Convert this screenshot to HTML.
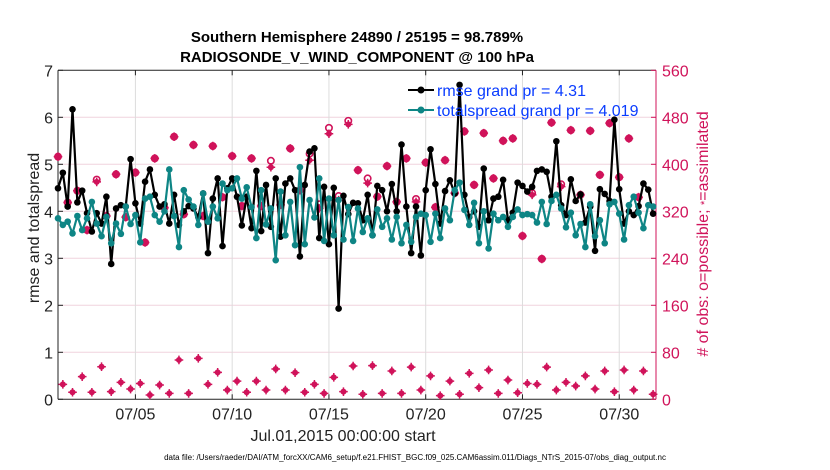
<!DOCTYPE html>
<html><head><meta charset="utf-8"><style>
html,body{margin:0;padding:0;background:#fff;}
svg{display:block;font-family:"Liberation Sans",Arial,sans-serif;}
</style></head><body>
<svg id="chart" width="830" height="470" viewBox="0 0 830 470">
<text x="357" y="42" text-anchor="middle" font-size="15" font-weight="bold">Southern Hemisphere 24890 / 25195 = 98.789%</text>
<text x="357" y="62" text-anchor="middle" font-size="15" font-weight="bold">RADIOSONDE_V_WIND_COMPONENT @ 100 hPa</text>
<g id="grid"></g>
<g id="axes"></g>
<g id="marks"></g>
<text transform="translate(39,228) rotate(-90)" text-anchor="middle" font-size="16" fill="#222">rmse and totalspread</text>
<text transform="translate(708,234) rotate(-90)" text-anchor="middle" font-size="16" fill="#d0135a"># of obs: o=possible; <tspan font-size="11">*</tspan>=assimilated</text>
<text x="343" y="441" text-anchor="middle" font-size="16" fill="#222">Jul.01,2015 00:00:00 start</text>
<text x="415" y="460" text-anchor="middle" font-size="8" fill="#000">data file: /Users/raeder/DAI/ATM_forcXX/CAM6_setup/f.e21.FHIST_BGC.f09_025.CAM6assim.011/Diags_NTrS_2015-07/obs_diag_output.nc</text>
<g>
<line x1="408" y1="90" x2="434" y2="90" stroke="#000" stroke-width="2"/>
<circle cx="421" cy="90" r="3.5" fill="#000"/>
<text x="437" y="96" font-size="16" fill="#0a3cff">rmse grand pr = 4.31</text>
<line x1="408" y1="110" x2="434" y2="110" stroke="#0e8585" stroke-width="2"/>
<circle cx="421" cy="110" r="3.5" fill="#0e8585"/>
<text x="437" y="116" font-size="16" fill="#0a3cff">totalspread grand pr = 4.019</text>
</g>
</svg>
<script>
const rmse=[4.49,4.82,4.10,6.17,4.19,4.44,3.96,3.57,3.96,3.74,4.31,2.88,4.06,4.13,4.10,5.11,4.17,3.74,4.63,4.89,4.35,4.10,4.15,3.74,4.35,3.71,4.0,4.11,4.06,3.88,4.38,3.11,
4.27,4.70,3.26,4.49,4.70,4.31,3.70,4.31,3.64,4.86,3.58,4.56,3.67,4.70,3.46,4.59,4.70,4.45,3.04,4.56,5.27,5.34,3.43,4.52,3.30,4.50,1.93,4.33,3.94,4.18,
4.17,3.81,4.35,3.49,4.54,4.45,4.0,4.58,4.0,5.42,4.10,3.11,4.10,3.06,4.45,5.32,4.58,3.74,4.43,4.66,4.38,6.69,4.35,3.88,4.0,3.67,4.91,3.81,4.27,4.31,4.67,3.81,
3.97,4.61,4.54,4.42,4.52,4.86,4.89,4.84,4.31,5.49,4.13,3.92,4.68,4.22,4.36,3.76,4.10,3.16,4.47,4.37,4.22,5.95,4.47,3.74,4.0,3.92,4.11,4.59,4.46,3.95];
const spread=[3.85,3.71,3.78,3.53,3.90,3.60,3.85,4.20,3.74,3.47,3.88,3.32,3.74,3.52,4.10,3.73,3.92,3.34,4.27,4.31,3.92,3.78,4.0,4.89,3.90,3.24,4.45,4.25,4.10,3.71,4.38,3.78,
4.10,3.85,4.59,4.45,4.49,4.70,4.27,4.51,4.09,3.43,4.45,3.72,4.06,2.96,4.42,3.49,4.20,3.28,4.94,3.30,4.24,3.87,4.70,3.37,4.27,3.49,4.24,3.40,4.09,3.37,
4.06,3.56,3.85,3.49,4.04,3.67,3.85,3.40,3.88,3.32,3.71,3.35,3.88,3.95,3.92,3.35,3.95,3.43,4.06,3.81,4.45,4.61,4.03,3.71,4.18,3.32,4.0,3.21,3.95,3.81,3.88,3.67,
3.88,4.04,3.92,3.94,3.92,3.76,4.20,3.73,4.22,4.35,4.06,3.66,3.97,3.49,3.73,3.24,4.15,3.47,3.81,3.32,4.15,4.20,3.95,3.40,4.13,4.31,3.97,3.64,4.13,4.10];
const obsHigh=[413,335,355,288,370,312,383,310,386,267,410,326,447,315,433,312,
431,344,414,329,410,329,395,331,427,356,407,325,452,339,468,390,
368,345,397,336,410,336,403,327,407,351,456,365,453,376,440,
444,278,348,239,471,362,458,348,457,382,470,378,444,344,null];
const obsHighPossible=[413,335,355,288,374,312,383,310,386,267,410,326,447,315,433,312,
431,344,414,329,410,329,406,331,427,356,418,332,462,346,474,390,
376,345,397,336,410,341,403,327,407,351,456,365,453,376,440,
444,278,351,239,471,366,458,348,457,382,470,378,444,344,null];
const obsLow=[25.5,12,38.5,12,55.5,13,28.9,17.5,27,7.3,24.3,10,67,10,69.7,25.5,45.9,15.8,31,12,31,15.8,51.6,15.8,45.3,12,25.5,10,37.4,13,56.7,8.5,
57.4,10,48.2,10,54.8,15.8,39.8,6.2,31,8.5,44.2,19.8,49.9,10,32.8,11.2,27,25.5,54.8,15.8,28.9,22.6,39.8,17.5,48.2,13,49.9,15.8,48.2,8.5];
const xTickDays=[4,9,14,19,24,29];
const xTickLabels=['07/05','07/10','07/15','07/20','07/25','07/30'];
const yTicks=[0,1,2,3,4,5,6,7];
const y2Ticks=[0,80,160,240,320,400,480,560];

const X0=58,X1=656,Y0=399.3,Y1=70.3,DAYS=30.9;
const sx=d=>X0+(d/DAYS)*(X1-X0);
const sy=v=>Y0-(v/7)*(Y0-Y1);
const sy2=v=>Y0-(v/560)*(Y0-Y1);
const idxDay=i=>i*0.25;
const NS='http://www.w3.org/2000/svg';
function mk(tag,attrs,parent){const e=document.createElementNS(NS,tag);for(const k in attrs)e.setAttribute(k,attrs[k]);parent.appendChild(e);return e;}
const grid=document.getElementById('grid'),axes=document.getElementById('axes'),marks=document.getElementById('marks');
const CR='#d0135a';
y2Ticks.forEach(v=>{if(v===0||v===560)return;const l=mk('line',{x1:X0,x2:X1,y1:sy2(v),y2:sy2(v),stroke:'#f0d3dd','stroke-width':1},grid);

});
xTickDays.forEach(d=>{const l=mk('line',{x1:sx(d),x2:sx(d),y1:Y1,y2:Y0,stroke:'#dcdcdc','stroke-width':1},grid);

});
let a=mk('line',{x1:X0,x2:X0,y1:Y1,y2:Y0,stroke:'#222','stroke-width':1},axes);


a=mk('line',{x1:X0,x2:X1,y1:Y0,y2:Y0,stroke:'#222','stroke-width':1},axes);


a=mk('line',{x1:X0,x2:X1,y1:Y1,y2:Y1,stroke:'#222','stroke-width':1},axes);


a=mk('line',{x1:X1,x2:X1,y1:Y1,y2:Y0,stroke:CR,'stroke-width':1},axes);


yTicks.forEach(v=>{mk('line',{x1:X0,x2:X0+5,y1:sy(v),y2:sy(v),stroke:'#222'},axes);
const t=mk('text',{x:X0-5,y:sy(v)+6,'text-anchor':'end','font-size':16,fill:'#222'},axes);t.textContent=v;

});
y2Ticks.forEach(v=>{mk('line',{x1:X1,x2:X1-5,y1:sy2(v),y2:sy2(v),stroke:CR},axes);
const t=mk('text',{x:X1+6,y:sy2(v)+6,'font-size':16,fill:CR},axes);t.textContent=v;

});
xTickDays.forEach((d,i)=>{mk('line',{x1:sx(d),x2:sx(d),y1:Y0,y2:Y0-5,stroke:'#222'},axes);mk('line',{x1:sx(d),x2:sx(d),y1:Y1,y2:Y1+5,stroke:'#222'},axes);
const t=mk('text',{x:sx(d),y:Y0+20,'text-anchor':'middle','font-size':16,fill:'#222'},axes);t.textContent=xTickLabels[i];

});
function star(x,y,name){const g=mk('g',{},marks);


mk('circle',{cx:x,cy:y,r:3,fill:CR},g);
mk('path',{d:`M${x-4.3} ${y}H${x+4.3}M${x} ${y-4.3}V${y+4.3}`,stroke:CR,'stroke-width':1.5},g);}
function ring(x,y){const c=mk('circle',{cx:x,cy:y,r:3.2,fill:'#fff',stroke:CR,'stroke-width':1.6},marks);

}
obsHighPossible.forEach((v,k)=>{if(v==null)return;ring(sx(idxDay(2*k)),sy2(v));});
obsHigh.forEach((v,k)=>{if(v==null)return;star(sx(idxDay(2*k)),sy2(v),'obs-assimilated-marker');});
obsLow.forEach((v,k)=>{star(sx(idxDay(2*k+1)),sy2(v),'obs-assimilated-marker');});
function series(arr,col,name){const pts=arr.map((v,i)=>sx(idxDay(i))+','+sy(v)).join(' ');
const p=mk('polyline',{points:pts,fill:'none',stroke:col,'stroke-width':2.2,'stroke-linejoin':'round'},marks);


arr.forEach((v,i)=>{const c=mk('circle',{cx:sx(idxDay(i)),cy:sy(v),r:3.3,fill:col},marks);

});}
series(rmse,'#000','rmse');
series(spread,'#0e8585','totalspread');
</script>
</body></html>
